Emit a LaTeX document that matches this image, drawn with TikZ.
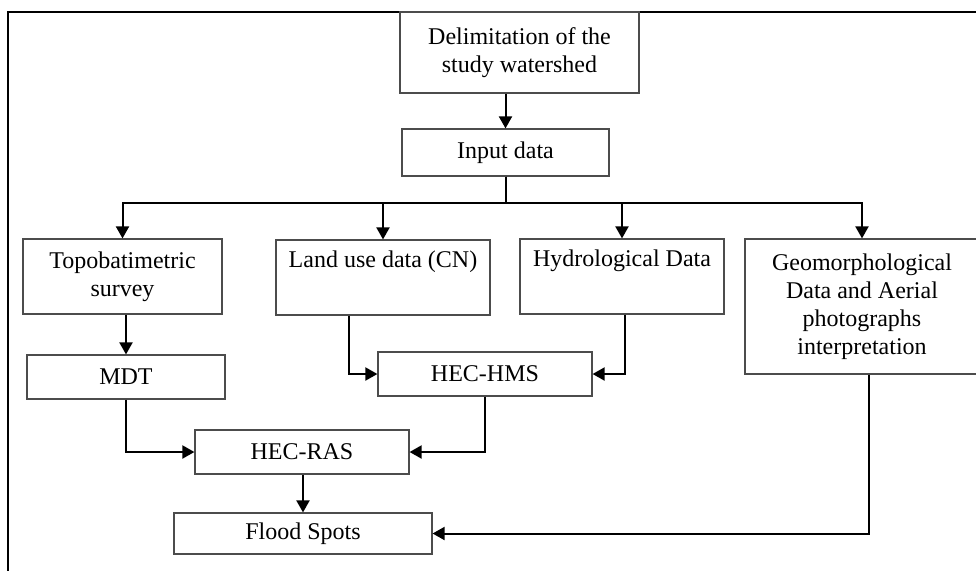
\documentclass[tikz,border=0pt]{standalone}
\usepackage{fontspec}
\setmainfont{Liberation Serif}
\usetikzlibrary{positioning, arrows.meta}

\begin{document}
\begin{tikzpicture}[x=0.5pt, y=-0.5pt]
    \tikzstyle{block}=[rectangle, draw=black!70, line width=0.6pt, inner sep=0, align=center, font=\fontsize{12pt}{14pt}\selectfont]
    \tikzstyle{flow}=[line width=1pt, -{Triangle[length=6pt, width=6.5pt]}]

    \clip (0,0) rectangle (976,570);
    \draw[line width=0.8pt] (8,12) rectangle (990,590);

    \node[block, minimum width=119.5pt, minimum height=40.5pt] (delim) at (519.5,52.5) {Delimitation of the\\study watershed};
    \node[block, minimum width=103.5pt, minimum height=23.5pt] (input) at (505.5,152.5) {Input data};
    \coordinate (bus) at (505.5,203);

    \node[block, minimum width=99.5pt, minimum height=37.5pt] (topo) at (122.5,276.5) {Topobatimetric\\survey};
    \node[block, minimum width=107pt, minimum height=37.5pt] (land) at (383,277.5) {Land use data (CN)\\\strut};
    \node[block, minimum width=102pt, minimum height=37.5pt] (hydro) at (622,276.5) {Hydrological Data\\\strut};
    \node[block, minimum width=117pt, minimum height=67.5pt] (geo) at (862,306.5) {Geomorphological\\Data and Aerial\\photographs\\interpretation};

    \node[block, minimum width=99pt, minimum height=22pt] (mdt) at (126,377) {MDT};
    \node[block, minimum width=107pt, minimum height=22pt] (hms) at (485,374) {HEC-HMS};
    \node[block, minimum width=107pt, minimum height=22pt] (ras) at (302,452) {HEC-RAS};
    \node[block, minimum width=129pt, minimum height=20.5pt] (flood) at (303,533.5) {Flood Spots};

    \draw[flow] (input.north |- delim.south) -- (input.north);
    \foreach \n in {topo, land, hydro, geo}
        \draw[flow] (input.south) -- (bus) -| (\n.north);

    \draw[flow] (topo.south -| mdt.north) -- (mdt.north);
    \draw[flow] ([xshift=-17pt]land.south) |- (hms.west);
    \draw[flow] ([xshift=1.5pt]hydro.south) |- (hms.east);
    \draw[flow] (mdt.south) |- (ras.west);
    \draw[flow] (hms.south) |- (ras.east);
    \draw[flow] (ras.south -| flood.north) -- (flood.north);
    \draw[flow] ([xshift=3.5pt]geo.south) |- (flood.east);
\end{tikzpicture}
\end{document}
